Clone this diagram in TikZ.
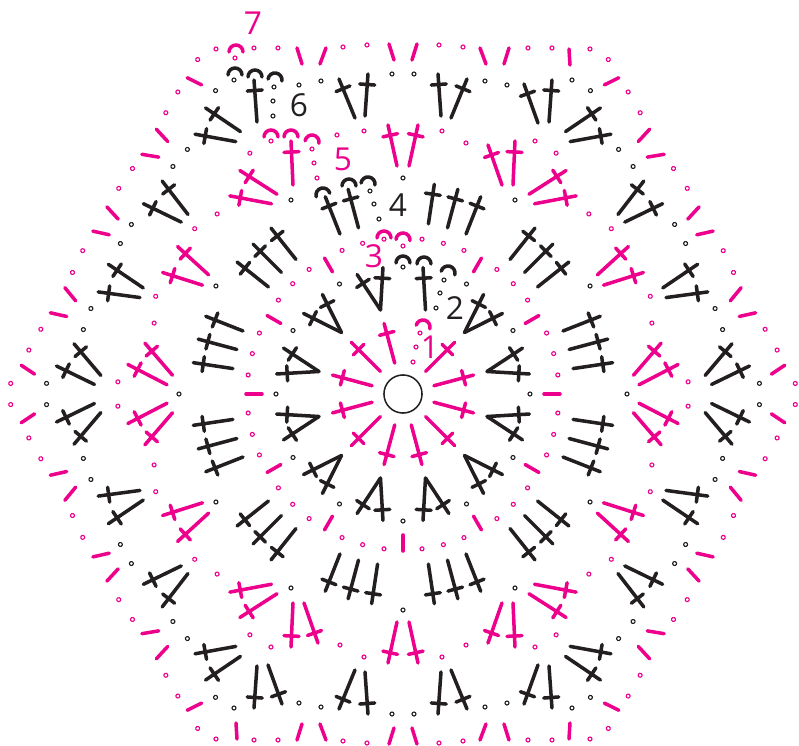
\documentclass[tikz,border=0pt]{standalone}
\usepackage{fontspec}
\setmainfont{Open Sans}
\usetikzlibrary{calc}
\definecolor{stitchpink}{HTML}{EC008C}
\definecolor{stitchblack}{HTML}{231F20}
\tikzset{
  pinkstem/.style={draw=stitchpink, line width=3pt, line cap=round},
  blackstem/.style={draw=stitchblack, line width=3pt, line cap=round},
  pinkdot/.style={draw=stitchpink, line width=0.95pt},
  blackdot/.style={draw=stitchblack, line width=0.95pt},
  roundlabel/.style={inner sep=0pt, font=\fontsize{27}{27}\selectfont},
  ringhole/.style={draw=stitchblack, circle, line width=1.3pt, minimum size=32.5pt, inner sep=0pt}
}
\newcommand{\stemcross}[3]{\draw[#1] (#2) -- (#3) ($(#2)!0.75!(#3)!6.4pt!90:(#3)$) -- ($(#2)!0.75!(#3)!6.4pt!-90:(#3)$);}
\newcommand{\yarncap}[4]{\draw[#1] (#2,#3) ++(180+#4:7) arc (180+#4:#4:7);}
\def\allfolds{0/1,60/1,120/1,180/1,240/1,300/1,0/-1,60/-1,120/-1,180/-1,240/-1,300/-1}
\def\openfolds{0/1,60/1,120/1,180/1,240/1,300/1,0/-1,60/-1,120/-1,240/-1,300/-1}

\begin{document}
\begin{tikzpicture}[x=0.03cm,y=0.03cm]
  \useasboundingbox (-403,-352) rectangle (396,394);

  \node[ringhole] (hole) at (0,0) {};

  \foreach \a in {15,45,105,135,...,345} {\stemcross{pinkstem}{\a:32}{\a:73}}
  \foreach \x/\y in {10/32,13/47,17/61} {\draw[pinkdot] (\x,\y) circle (2);}
  \yarncap{pinkstem}{20}{67}{-15}

  \foreach \a in {15,45,...,345} {\stemcross{blackstem}{\a:87}{\a+6:128}}
  \foreach \a in {15,45,105,135,...,345} {\stemcross{blackstem}{\a:87}{\a-6:128}}
  \foreach \a in {0,30,...,330} {\draw[blackdot] (\a:127) circle (2);}
  \foreach \x/\y in {33/86,37/101,41/114} {\draw[blackdot] (\x,\y) circle (2);}
  \yarncap{blackstem}{0}{131}{0}
  \yarncap{blackstem}{21}{130}{0}
  \yarncap{blackstem}{45}{121}{-15}

  \foreach \a in {0,30,60,120,150,...,330} {\draw[pinkstem] (\a:141) -- (\a:157);}
  \foreach \a in {15,45,...,345} {
    \draw[pinkdot] (\a:156) circle (2);
    \draw[pinkdot] (\a-8:156) circle (2);
    \draw[pinkdot] (\a+8:156) circle (2);
  }
  \draw[pinkdot] (0,148) circle (2);
  \yarncap{pinkstem}{-19}{156}{0}
  \yarncap{pinkstem}{0}{154}{-5}

  \foreach \a in {15,45,...,345} {
    \stemcross{blackstem}{\a:172}{\a:212}
    \stemcross{blackstem}{\a+6.5:172}{\a+6.5:212}
  }
  \foreach \a in {15,45,75,135,165,...,345} {\stemcross{blackstem}{\a-6.5:172}{\a-6.5:212}}
  \foreach \a in {0,60,...,300} {
    \draw[blackdot] (\a:224) circle (2);
    \draw[blackdot] (\a+30:216) circle (2);
  }
  \foreach \x/\y in {-24/175,-29/190,-33/203} {\draw[blackdot] (\x,\y) circle (2);}
  \yarncap{blackstem}{-80}{199}{15}
  \yarncap{blackstem}{-54}{208}{0}
  \yarncap{blackstem}{-35}{210}{-8}

  \foreach \a/\s in \allfolds {
    \begin{scope}[rotate=\a,xscale=\s]
      \stemcross{pinkstem}{-110,-209}{-112,-253}
      \stemcross{pinkstem}{-6,-228}{-15,-269}
      \foreach \x/\y in {-132/-253,-39/-263} {\draw[pinkdot] (\x,\y) circle (2);}
      \stemcross{blackstem}{-146,-272}{-149,-314}
      \stemcross{blackstem}{-48,-276}{-64,-315}
      \stemcross{blackstem}{-38,-278}{-35,-320}
      \foreach \x/\y in {-169/-314,-104/-309,-82/-313,-11/-320} {\draw[blackdot] (\x,\y) circle (2);}
      \draw[pinkstem] (-101,-330) -- (-106,-346);
      \draw[pinkstem] (-83,-330) -- (-77,-346);
      \draw[pinkstem] (-9,-334) -- (-14,-350);
      \foreach \x/\y in {-187/-345,-149/-346,-125/-346,-60/-347,-36/-349} {\draw[pinkdot] (\x,\y) circle (2);}
    \end{scope}
  }
  \foreach \a/\s in \openfolds {
    \begin{scope}[rotate=\a,xscale=\s]
      \stemcross{pinkstem}{-99,-209}{-85,-249}
      \stemcross{blackstem}{-135,-271}{-121,-310}
      \draw[pinkstem] (-167,-329) -- (-166,-345);
      \draw[pinkdot] (-63,-251) circle (2);
    \end{scope}
  }

  \draw[pinkdot] (-66,259) circle (2);
  \foreach \x/\y in {-91/245,-89/231,-86/216} {\draw[pinkdot] (\x,\y) circle (2);}
  \yarncap{pinkstem}{-132}{257}{0}
  \yarncap{pinkstem}{-112}{257}{0}
  \yarncap{pinkstem}{-91}{252}{-10}

  \foreach \x/\y in {-129/307,-130/293,-130/278} {\draw[blackdot] (\x,\y) circle (2);}
  \yarncap{blackstem}{-168}{319}{0}
  \yarncap{blackstem}{-148}{317}{0}
  \yarncap{blackstem}{-128}{314}{-8}

  \draw[pinkdot] (-168,336) circle (2);
  \yarncap{pinkstem}{-167}{342}{0}

  \foreach \n/\x/\y/\c in {1/27/47/stitchpink,2/52/86/stitchblack,3/-29/138/stitchpink,4/-5/189/stitchblack,5/-60/235/stitchpink,6/-104/289/stitchblack,7/-150/371/stitchpink} {
    \node[roundlabel,text=\c] (lab\n) at (\x,\y) {\n};
  }
\end{tikzpicture}
\end{document}
